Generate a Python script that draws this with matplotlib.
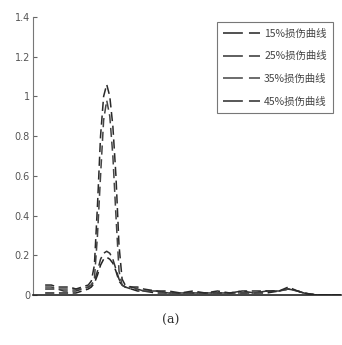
import matplotlib
matplotlib.use("Agg")
import matplotlib.pyplot as plt

plt.rcParams['font.family'] = ['Noto Sans CJK SC', 'DejaVu Sans']

x = [4, 6, 8, 10, 12, 14, 16, 18, 19, 20, 21, 22, 23, 24, 25, 26, 27, 28, 29, 30,
     32, 34, 36, 40, 44, 48, 52, 56, 60, 64, 68, 72, 76, 80, 83, 86, 88, 92, 96, 100]

s15 = [0.01, 0.01, 0.01, 0.01, 0.01, 0.01, 0.02, 0.03, 0.04, 0.06, 0.10, 0.15, 0.18, 0.19, 0.18, 0.16, 0.12, 0.07, 0.05, 0.04,
       0.03, 0.02, 0.02, 0.01, 0.01, 0.01, 0.01, 0.01, 0.01, 0.01, 0.01, 0.01, 0.01, 0.02, 0.03, 0.02, 0.01, 0.0, 0.0, 0.0]
s25 = [0.03, 0.03, 0.03, 0.02, 0.02, 0.02, 0.03, 0.04, 0.05, 0.07, 0.12, 0.18, 0.21, 0.22, 0.21, 0.18, 0.13, 0.08, 0.05, 0.04,
       0.03, 0.03, 0.02, 0.02, 0.01, 0.01, 0.01, 0.01, 0.01, 0.01, 0.02, 0.01, 0.02, 0.02, 0.03, 0.02, 0.01, 0.0, 0.0, 0.0]
s35 = [0.04, 0.04, 0.03, 0.03, 0.03, 0.03, 0.03, 0.04, 0.05, 0.08, 0.30, 0.60, 0.88, 0.98, 0.90, 0.70, 0.40, 0.12, 0.05, 0.04,
       0.04, 0.03, 0.02, 0.02, 0.01, 0.01, 0.01, 0.01, 0.01, 0.01, 0.01, 0.01, 0.02, 0.02, 0.03, 0.02, 0.01, 0.0, 0.0, 0.0]
s45 = [0.05, 0.05, 0.04, 0.04, 0.04, 0.03, 0.04, 0.05, 0.07, 0.15, 0.45, 0.80, 1.00, 1.06, 1.00, 0.85, 0.60, 0.25, 0.08, 0.05,
       0.04, 0.04, 0.03, 0.02, 0.02, 0.01, 0.02, 0.01, 0.02, 0.01, 0.02, 0.02, 0.02, 0.02, 0.04, 0.02, 0.01, 0.0, 0.0, 0.0]

labels = ['15%损伤曲线', '25%损伤曲线', '35%损伤曲线', '45%损伤曲线']
series = [s15, s25, s35, s45]
yticks = [0, 0.2, 0.4, 0.6, 0.8, 1, 1.2, 1.4]
ytick_labels = ['0', '0.2', '0.4', '0.6', '0.8', '1', '1.2', '1.4']

fig = plt.figure(figsize=(3.42, 3.45), dpi=100)
ax = fig.add_axes([0.096, 0.145, 0.9, 0.806])
colors = ['#222222', '#333333', '#444444', '#2a2a2a']
for s, lab, c in zip(series, labels, colors):
    ax.plot(x, s, linestyle=(0, (6, 3)), color=c, linewidth=1.1, label=lab)

ax.set_xlim(0, 100)
ax.set_ylim(0, 1.4)
ax.set_yticks(yticks)
ax.set_yticklabels(ytick_labels, fontsize=7, color='#555555', family='DejaVu Sans')
ax.tick_params(axis='y', direction='in', length=3, color='#666666', pad=2)
ax.set_xticks([])
for sp in ['top', 'right']:
    ax.spines[sp].set_visible(False)
ax.spines['left'].set_color('#777777')
ax.spines['bottom'].set_color('#222222')
ax.spines['bottom'].set_linewidth(1.2)

leg = ax.legend(loc='upper right', bbox_to_anchor=(0.975, 0.98), fontsize=7.5, frameon=True,
                fancybox=False, edgecolor='#555555', handlelength=3.6, labelspacing=1.2,
                borderpad=0.6, handletextpad=0.35, borderaxespad=0)
leg.get_frame().set_linewidth(0.8)
for h in leg.get_lines():
    h.set_linestyle((0, (13, 4)))
for t in leg.get_texts():
    t.set_color('#444444')

fig.text(0.5, 0.07, '(a)', ha='center', va='center', fontsize=9, color='#333333', family='DejaVu Serif')

fig.savefig('out.png', dpi=100)
